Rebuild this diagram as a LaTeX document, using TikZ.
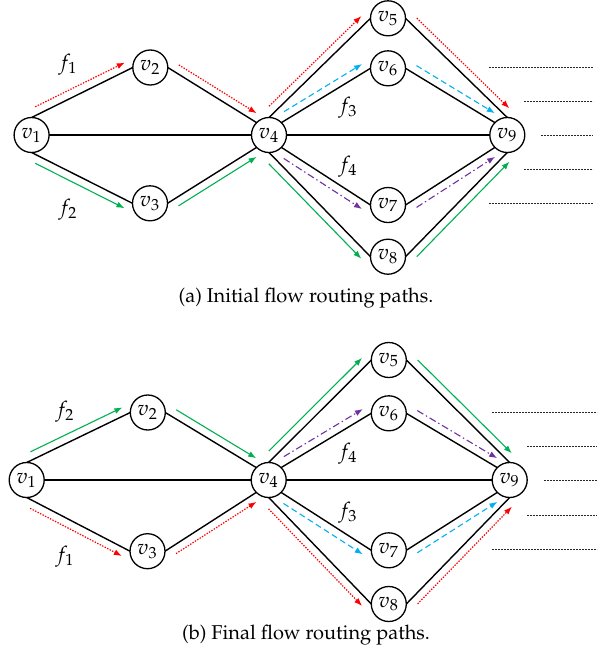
\documentclass[tikz,border=0pt]{standalone}
\usepackage[T1]{fontenc}
\usepackage{mathpazo}
\usetikzlibrary{calc,arrows.meta}

\definecolor{flred}{RGB}{255,0,0}
\definecolor{flgreen}{RGB}{0,176,80}
\definecolor{flcyan}{RGB}{0,176,240}
\definecolor{flpurple}{RGB}{112,48,160}

% flow arrows run parallel to a link, offset to its left (L) or right (R)
\newcommand\flowoff{4pt}
\newcommand\flowst{4pt}
\newcommand\flowen{2.5pt}
\newcommand\flowL[3]{\draw[#1] ($(#2)!\flowst!(#3)!\flowoff!90:(#3)$) -- ($(#3)!\flowen!(#2)!\flowoff!-90:(#2)$);}
\newcommand\flowR[3]{\draw[#1] ($(#2)!\flowst!(#3)!\flowoff!-90:(#3)$) -- ($(#3)!\flowen!(#2)!\flowoff!90:(#2)$);}

\begin{document}
\begin{tikzpicture}[x=0.5pt,y=-0.5pt,
  vert/.style={draw,circle,line width=0.65pt,minimum size=17.5pt,inner sep=0pt,outer sep=0pt,
               font=\fontsize{10.6}{12}\selectfont},
  link/.style={line width=0.7pt},
  flowtip/.style={-{Latex[length=4pt,width=3pt]},line width=0.55pt},
  fred/.style={flowtip,flred,line width=0.6pt,dash pattern=on 0.7pt off 0.7pt},
  fgreen/.style={flowtip,flgreen},
  fcyan/.style={flowtip,flcyan,dash pattern=on 3pt off 1.8pt},
  fpurple/.style={flowtip,flpurple,dash pattern=on 3.5pt off 1.5pt on 0.7pt off 1.5pt},
  filler/.style={line width=0.5pt,black!85,dash pattern=on 0.9pt off 0.6pt},
  flabel/.style={inner sep=0pt,font=\fontsize{10.6}{12}\selectfont},
  caption/.style={inner sep=0pt}]

\useasboundingbox (0,0) rectangle (608,660);

% ---------- (a) initial paths ----------
\node[vert] (a1) at (31.6,135) {$v_1$};
\node[vert] (a2) at (150.3,67.5) {$v_2$};
\node[vert] (a3) at (150,203.3) {$v_3$};
\node[vert] (a4) at (269,135) {$v_4$};
\node[vert] (a5) at (388,18.3) {$v_5$};
\node[vert] (a6) at (388,68.3) {$v_6$};
\node[vert] (a7) at (388,205) {$v_7$};
\node[vert] (a8) at (388,256.7) {$v_8$};
\node[vert] (a9) at (507.3,135) {$v_9$};

% ---------- (b) final paths ----------
\node[vert] (b1) at (26.7,480) {$v_1$};
\node[vert] (b2) at (147.8,412.5) {$v_2$};
\node[vert] (b3) at (147.5,551.2) {$v_3$};
\node[vert] (b4) at (268.7,480) {$v_4$};
\node[vert] (b5) at (388.8,360) {$v_5$};
\node[vert] (b6) at (388.8,413.3) {$v_6$};
\node[vert] (b7) at (388.8,550.3) {$v_7$};
\node[vert] (b8) at (388.8,604) {$v_8$};
\node[vert] (b9) at (509.7,480) {$v_9$};

% the same network in both panels
\foreach \p in {a,b}{
  \draw[link] (\p1.north) -- (\p2.west);
  \draw[link] (\p1.south) -- (\p3.west);
  \draw[link] (\p1.east) -- (\p4.west);
  \draw[link] (\p2.east) -- (\p4.north west);
  \draw[link] (\p3.east) -- (\p4.south west);
  \draw[link] (\p4.north) -- (\p5.west);
  \draw[link] (\p4.north east) -- (\p6.west);
  \draw[link] (\p4.east) -- (\p9.west);
  \draw[link] (\p4.south east) -- (\p7.west);
  \draw[link] (\p4.south) -- (\p8.west);
  \draw[link] (\p5.east) -- (\p9.north);
  \draw[link] (\p6.east) -- (\p9.north west);
  \draw[link] (\p7.east) -- (\p9.south west);
  \draw[link] (\p8.east) -- (\p9.south);
}

% flows, panel (a)
\flowL{fred}{a1.north}{a2.west}
\flowL{fred}{a2.east}{a4.north west}
\flowL{fred}{a4.north}{a5.west}
\flowL{fred}{a5.east}{a9.north}
\flowR{fgreen}{a1.south}{a3.west}
\flowR{fgreen}{a3.east}{a4.south west}
\flowR{fgreen}{a4.south}{a8.west}
\flowR{fgreen}{a8.east}{a9.south}
\flowL{fcyan}{a4.north east}{a6.west}
\flowL{fcyan}{a6.east}{a9.north west}
\flowR{fpurple}{a4.south east}{a7.west}
\flowR{fpurple}{a7.east}{a9.south west}

\node[flabel] (fa1) at (68,65) {$f_1$};
\node[flabel] (fa2) at (68,210) {$f_2$};
\node[flabel] (fa3) at (348,108) {$f_3$};
\node[flabel] (fa4) at (348,167) {$f_4$};

\draw[filler] (489,67) -- (593,67);
\draw[filler] (524,101) -- (593,101);
\draw[filler] (541,135) -- (593,135);
\draw[filler] (524,169) -- (593,169);
\draw[filler] (489,203) -- (593,203);

\node[caption] (capa) at (306,298) {(a) Initial flow routing paths.};

% flows, panel (b)
\flowL{fgreen}{b1.north}{b2.west}
\flowL{fgreen}{b2.east}{b4.north west}
\flowL{fgreen}{b4.north}{b5.west}
\flowL{fgreen}{b5.east}{b9.north}
\flowR{fred}{b1.south}{b3.west}
\flowR{fred}{b3.east}{b4.south west}
\flowR{fred}{b4.south}{b8.west}
\flowR{fred}{b8.east}{b9.south}
\flowL{fpurple}{b4.north east}{b6.west}
\flowL{fpurple}{b6.east}{b9.north west}
\flowR{fcyan}{b4.south east}{b7.west}
\flowR{fcyan}{b7.east}{b9.south west}

\node[flabel] (fb2) at (65,412) {$f_2$};
\node[flabel] (fb1) at (65,557) {$f_1$};
\node[flabel] (fb4) at (348,454) {$f_4$};
\node[flabel] (fb3) at (348,513) {$f_3$};

\draw[filler] (492,412) -- (597,412);
\draw[filler] (527,446) -- (597,446);
\draw[filler] (544,480) -- (597,480);
\draw[filler] (527,515) -- (597,515);
\draw[filler] (492,549) -- (597,549);

\node[caption] (capb) at (306,635) {(b) Final flow routing paths.};
\end{tikzpicture}
\end{document}
